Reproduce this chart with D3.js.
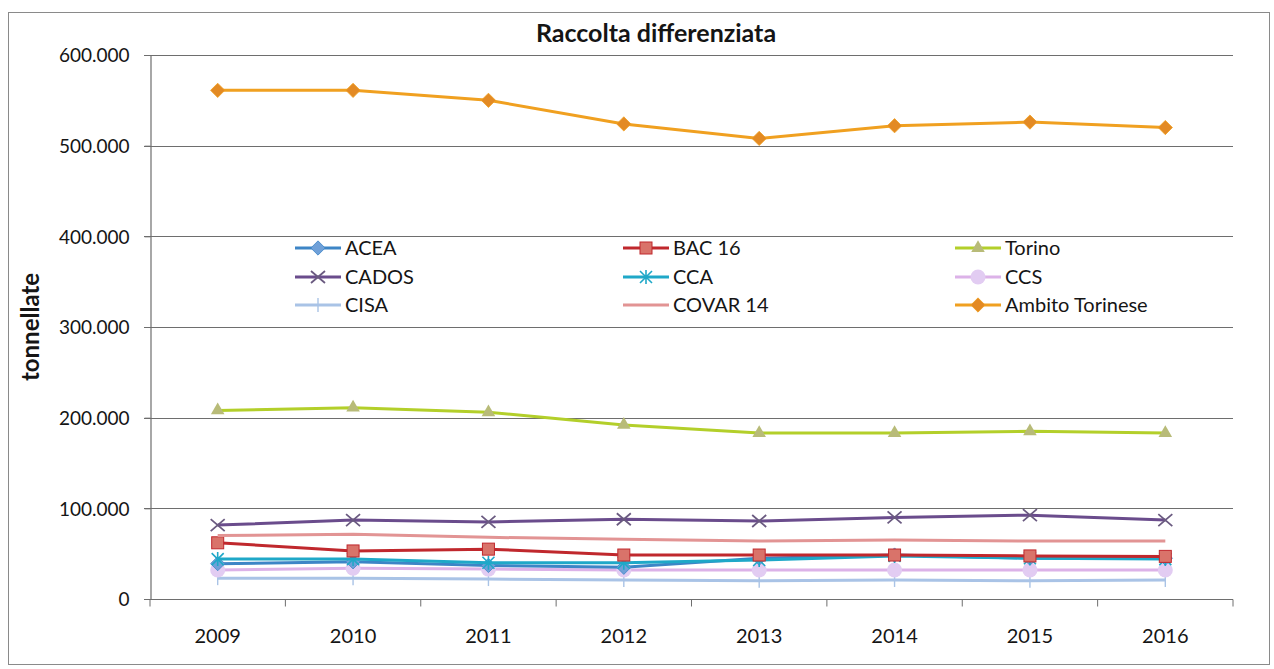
<!DOCTYPE html>
<html>
<head>
<meta charset="utf-8">
<script src="https://cdn.jsdelivr.net/npm/d3@7"></script>
<style>
  body { margin: 0; background: #fff; }
  text { font-family: Lato, "Open Sans", sans-serif; fill: #151515; }
</style>
</head>
<body>
<div id="chart"></div>
<script>
const years = ["2009", "2010", "2011", "2012", "2013", "2014", "2015", "2016"];
const yTicks = [0, 100000, 200000, 300000, 400000, 500000, 600000];

const acea    = [39000, 41000, 37000, 35000, 45000, 48500, 45000, 45000];
const bac16   = [62000, 53000, 55000, 48500, 48500, 48500, 47500, 47000];
const torino  = [208000, 211000, 206000, 192000, 183000, 183000, 185000, 183000];
const cados   = [81500, 87000, 85000, 88000, 86000, 90000, 92500, 87000];
const cca     = [44000, 44000, 40000, 40000, 43000, 47500, 45000, 44000];
const ccs     = [32000, 34000, 33000, 32000, 32000, 32000, 32000, 32000];
const cisa    = [23000, 23000, 22000, 21000, 20000, 21000, 20000, 21000];
const covar14 = [70000, 71500, 68000, 66000, 64000, 65000, 64000, 64000];
const ambito  = [561000, 561000, 550000, 524000, 508000, 522000, 526000, 520000];

const series = [
  { name: "ACEA", values: acea, line: "#3d85c6", fill: "#6fa0d8", marker: "diamond" },
  { name: "BAC 16", values: bac16, line: "#c0282d", fill: "#d9736a", marker: "square" },
  { name: "Torino", values: torino, line: "#b3cf2a", fill: "#b8bb78", marker: "triangle" },
  { name: "CADOS", values: cados, line: "#6a4c8c", fill: "#6a5a80", marker: "x" },
  { name: "CCA", values: cca, line: "#1fa8c8", fill: "#1fa8c8", marker: "star" },
  { name: "CCS", values: ccs, line: "#dcb2e8", fill: "#e2ccf2", marker: "circle" },
  { name: "CISA", values: cisa, line: "#a9c3e6", fill: "#a9c3e6", marker: "plus" },
  { name: "COVAR 14", values: covar14, line: "#e29494", fill: "#e29494", marker: "none" },
  { name: "Ambito Torinese", values: ambito, line: "#f0a020", fill: "#e38a24", marker: "diamond" }
];

// draw order: small ones first, big on top like the original
const drawOrder = ["CISA", "CCS", "ACEA", "CCA", "BAC 16", "COVAR 14", "CADOS", "Torino", "Ambito Torinese"];

const width = 1274, height = 669;
const margin = { top: 55, right: 41, bottom: 70, left: 150 };

const svg = d3.select("#chart").append("svg")
  .attr("width", width)
  .attr("height", height);

svg.append("rect")
  .attr("x", 8.5).attr("y", 12.5)
  .attr("width", 1261).attr("height", 652)
  .attr("fill", "none")
  .attr("stroke", "#8a8a8a")
  .attr("stroke-width", 1);

const x = d3.scaleBand()
  .domain(years)
  .range([margin.left, width - margin.right]);

const y = d3.scaleLinear()
  .domain([0, 600000])
  .range([height - margin.bottom - 0, margin.top]);

const fmt = v => v === 0 ? "0" : d3.format(",")(v).replace(/,/g, ".");

// gridlines
svg.append("g")
  .selectAll("line")
  .data(yTicks.filter(d => d > 0))
  .join("line")
  .attr("x1", margin.left - 6)
  .attr("x2", width - margin.right)
  .attr("y1", d => Math.round(y(d)) + 0.5)
  .attr("y2", d => Math.round(y(d)) + 0.5)
  .attr("stroke", "#6e6e6e")
  .attr("stroke-width", 1.2);

// y axis
const yAxis = svg.append("g")
  .attr("transform", `translate(${margin.left + 0.5},0)`)
  .call(d3.axisLeft(y).tickValues(yTicks).tickFormat(fmt).tickSize(6).tickPadding(15));
yAxis.select(".domain").attr("stroke", "#6e6e6e").attr("stroke-width", 1.2);
yAxis.selectAll(".tick line").attr("stroke", "#6e6e6e");
yAxis.selectAll("text").style("font-size", "19px").style("font-family", "Lato, sans-serif").attr("dy", "0.36em");

// x axis with tick marks between categories
const xAxisG = svg.append("g")
  .attr("transform", `translate(0,${Math.round(y(0)) + 0.5})`);
xAxisG.append("line")
  .attr("x1", margin.left - 6).attr("x2", width - margin.right)
  .attr("stroke", "#6e6e6e").attr("stroke-width", 1.2);
xAxisG.selectAll("line.tk")
  .data(years.concat(["end"]))
  .join("line")
  .attr("class", "tk")
  .attr("x1", (d, i) => margin.left + i * x.step())
  .attr("x2", (d, i) => margin.left + i * x.step())
  .attr("y1", 0).attr("y2", 7)
  .attr("stroke", "#6e6e6e");
xAxisG.selectAll("text")
  .data(years)
  .join("text")
  .attr("x", d => x(d) + x.bandwidth() / 2)
  .attr("y", 43)
  .attr("text-anchor", "middle")
  .style("font-size", "20px")
  .text(d => d);

// title and axis label
svg.append("text")
  .attr("x", 656).attr("y", 42)
  .attr("text-anchor", "middle")
  .style("font-size", "25px")
  .style("font-weight", "bold")
  .text("Raccolta differenziata");

svg.append("text")
  .attr("transform", `translate(39,${(margin.top + y(0)) / 2}) rotate(-90)`)
  .attr("text-anchor", "middle")
  .style("font-size", "24px")
  .style("font-weight", "bold")
  .text("tonnellate");

function drawMarker(g, type, s, cx, cy) {
  const fill = s.fill, stroke = s.line;
  if (type === "diamond") {
    g.append("path").attr("d", d3.symbol(d3.symbolDiamond2, 130)())
      .attr("transform", `translate(${cx},${cy})`)
      .attr("fill", fill).attr("stroke", stroke).attr("stroke-width", 0.8);
  } else if (type === "square") {
    g.append("rect").attr("x", cx - 6).attr("y", cy - 6).attr("width", 12).attr("height", 12)
      .attr("fill", fill).attr("stroke", stroke).attr("stroke-width", 1);
  } else if (type === "triangle") {
    g.append("path").attr("d", d3.symbol(d3.symbolTriangle, 80)())
      .attr("transform", `translate(${cx},${cy})`)
      .attr("fill", fill);
  } else if (type === "x") {
    g.append("path").attr("d", `M${cx - 7},${cy - 6}L${cx + 7},${cy + 6}M${cx - 7},${cy + 6}L${cx + 7},${cy - 6}`)
      .attr("stroke", fill).attr("stroke-width", 1.8).attr("fill", "none");
  } else if (type === "star") {
    g.append("path").attr("d", `M${cx - 6},${cy - 6}L${cx + 6},${cy + 6}M${cx - 6},${cy + 6}L${cx + 6},${cy - 6}M${cx},${cy - 7}L${cx},${cy + 7}`)
      .attr("stroke", fill).attr("stroke-width", 1.6).attr("fill", "none");
  } else if (type === "circle") {
    g.append("circle").attr("cx", cx).attr("cy", cy).attr("r", 7.5)
      .attr("fill", fill);
  } else if (type === "plus") {
    g.append("path").attr("d", `M${cx},${cy - 7}L${cx},${cy + 7}`)
      .attr("stroke", fill).attr("stroke-width", 1.4);
  }
}

const line = d3.line()
  .x((d, i) => x(years[i]) + x.bandwidth() / 2)
  .y(d => y(d));

const byName = new Map(series.map(s => [s.name, s]));

drawOrder.forEach(name => {
  const s = byName.get(name);
  const g = svg.append("g");
  g.append("path")
    .datum(s.values)
    .attr("d", line)
    .attr("fill", "none")
    .attr("stroke", s.line)
    .attr("stroke-width", 3);
  s.values.forEach((v, i) => drawMarker(g, s.marker, s, x(years[i]) + x.bandwidth() / 2, y(v)));
});

// legend, 3 columns inside plot
const legendCols = [295, 623, 955];
const legendRows = [248, 277, 305];
series.forEach((s, i) => {
  const lx = legendCols[i % 3], ly = legendRows[Math.floor(i / 3)];
  const g = svg.append("g");
  g.append("line")
    .attr("x1", lx).attr("x2", lx + 46)
    .attr("y1", ly).attr("y2", ly)
    .attr("stroke", s.line).attr("stroke-width", 3);
  drawMarker(g, s.marker, s, lx + 23, ly);
  g.append("text")
    .attr("x", lx + 50).attr("y", ly + 7)
    .style("font-size", "20px")
    .text(s.name);
});
</script>
</body>
</html>
